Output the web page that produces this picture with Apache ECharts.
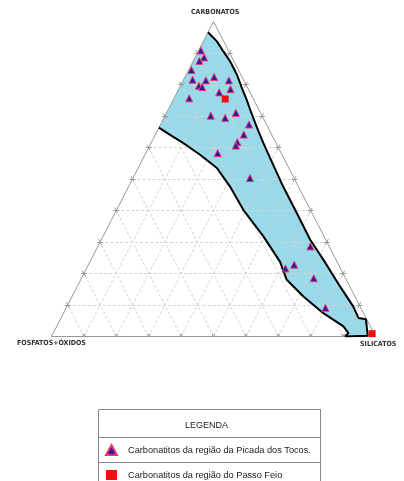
<!DOCTYPE html>
<html>
<head>
<meta charset="utf-8">
<script src="https://cdn.jsdelivr.net/npm/echarts@6/dist/echarts.min.js"></script>
<style>
html, body { margin: 0; padding: 0; background: #fff; }
#chart { width: 404px; height: 481px; }
</style>
</head>
<body>
<div id="chart"></div>
<script>
// valores em % (fosfatos+óxidos = 100 - carbonatos - silicatos)
var tocosCarb = [90.8, 88.6, 87.5, 84.6, 81.5, 81.3, 82.4, 81.3, 79.6, 79.2, 78.5, 77.5, 75.6, 71.0,
	70.1, 69.4, 67.3, 64.1, 61.7, 60.6, 58.2, 50.3, 28.6, 21.6, 22.8, 18.5, 9.1];
var tocosSil = [0.7, 2.8, 1.9, 0.9, 2.8, 7.0, 9.0, 14.1, 5.7, 6.9, 16.0, 13.0, 4.7, 21.4,
	14.1, 18.9, 27.3, 27.3, 26.5, 26.6, 22.2, 36.1, 65.6, 61.4, 63.5, 71.7, 80.0];
var feioCarb = [75.4, 0.9];
var feioSil = [15.9, 98.5];

// contorno do campo (curva inferior -> seta -> curva superior)
var campoCarb = [66.3, 64.0, 61.4, 57.7, 53.5, 47.6, 40.2, 31.8, 23.7, 18.0, 12.7, 7.4, 3.2, 1.1,
	0, 0.2, 5.5, 5.9,
	9.5, 15.9, 24.4, 30.7, 39.2, 47.6, 56.7, 61.4, 66.6, 71.9, 75.1, 78.9, 83.1, 87.3, 90.5, 93.7, 96.6];
var campoSil = [0, 4.6, 10.0, 17.0, 24.3, 31.3, 39.1, 49.5, 58.7, 63.6, 71.4, 80.2, 88.5, 91.1,
	90.6, 97.5, 94.3, 91.8,
	88.4, 81.1, 71.7, 64.5, 56.1, 47.7, 39.1, 34.7, 30.0, 25.4, 22.7, 19.3, 15.7, 11.5, 7.8, 4.2, 0];

var ticks = [10, 20, 30, 40, 50, 60, 70, 80, 90];

var nomeTocos = 'Carbonatitos da região da Picada dos Tocos.';
var nomeFeio = 'Carbonatitos da região do Passo Feio';

// ternario -> x,y do grid
function xy(c, s) {
	return [s + c / 2, c];
}
function pontos(carb, sil) {
	var res = [];
	for (var i = 0; i < carb.length; i++) {
		res.push(xy(carb[i], sil[i]));
	}
	return res;
}

// linhas de grade tracejadas e marcas (pequenos x nas bordas)
var grade = [], marcas = [];
var t = 0.9;
for (var i = 0; i < ticks.length; i++) {
	var k = ticks[i];
	grade.push({ coords: [xy(k, 0), xy(k, 100 - k)] });
	grade.push({ coords: [xy(0, k), xy(100 - k, k)] });
	grade.push({ coords: [xy(0, 100 - k), xy(100 - k, 0)] });
	// base: C = 0, S = k
	marcas.push({ coords: [xy(t, k - t), xy(-t, k + t)] });
	marcas.push({ coords: [xy(t, k), xy(-t, k)] });
	// lado esquerdo: S = 0, C = k
	marcas.push({ coords: [xy(k, -t), xy(k, t)] });
	marcas.push({ coords: [xy(k + t, -t), xy(k - t, t)] });
	// lado direito: F = 0, C = k
	marcas.push({ coords: [xy(k, 100 - k - t), xy(k, 100 - k + t)] });
	marcas.push({ coords: [xy(k - t, 100 - k), xy(k + t, 100 - k)] });
}

var campo = pontos(campoCarb, campoSil);
var fonteEixo = '"Liberation Sans Narrow", "DejaVu Sans Condensed", sans-serif';
var fonteLeg = '"Liberation Sans", Arial, sans-serif';

var chart = echarts.init(document.getElementById('chart'));
chart.setOption({
	animation: false,
	backgroundColor: '#fff',
	grid: { left: 51.5, top: 21.5, width: 324, height: 315 },
	xAxis: { type: 'value', min: 0, max: 100, show: false },
	yAxis: { type: 'value', min: 0, max: 100, show: false },
	legend: {
		orient: 'vertical',
		left: 105,
		top: 444,
		padding: 0,
		itemGap: 14,
		itemWidth: 11,
		itemHeight: 10,
		textStyle: { fontSize: 9.2, color: '#222', fontFamily: fonteLeg, padding: [0, 0, 0, 6] },
		data: [nomeTocos, nomeFeio]
	},
	graphic: [
		{ type: 'text', left: 191, top: 9, style: { text: 'CARBONATOS', fontSize: 7, fontWeight: 'bold', fill: '#333', fontFamily: fonteEixo } },
		{ type: 'text', left: 17, top: 340, style: { text: 'FOSFATOS+ÓXIDOS', fontSize: 7, fontWeight: 'bold', fill: '#333', fontFamily: fonteEixo } },
		{ type: 'text', left: 360, top: 341, style: { text: 'SILICATOS', fontSize: 7, fontWeight: 'bold', fill: '#333', fontFamily: fonteEixo } },
		{ type: 'rect', shape: { x: 98.5, y: 409.5, width: 222, height: 90 }, style: { fill: 'none', stroke: '#888', lineWidth: 1 } },
		{ type: 'line', shape: { x1: 98.5, y1: 437.5, x2: 320.5, y2: 437.5 }, style: { stroke: '#888', lineWidth: 1 } },
		{ type: 'line', shape: { x1: 98.5, y1: 462.5, x2: 320.5, y2: 462.5 }, style: { stroke: '#888', lineWidth: 1 } },
		{ type: 'text', left: 185, top: 421, style: { text: 'LEGENDA', fontSize: 9, fill: '#222', fontFamily: fonteLeg } }
	],
	series: [
		{
			type: 'custom',
			renderItem: function (params, api) {
				var pts = campo.map(function (p) { return api.coord(p); });
				return { type: 'polygon', shape: { points: pts }, style: { fill: '#99d9ea' } };
			},
			data: [[0, 0]],
			silent: true,
			z: 1
		},
		{
			type: 'lines',
			coordinateSystem: 'cartesian2d',
			data: grade,
			lineStyle: { color: '#d4d4d4', width: 1, type: [3, 2], opacity: 1 },
			silent: true,
			z: 2
		},
		{
			type: 'lines',
			coordinateSystem: 'cartesian2d',
			data: marcas,
			lineStyle: { color: '#999', width: 1, opacity: 1 },
			silent: true,
			z: 2
		},
		{
			type: 'line',
			data: [xy(100, 0), xy(0, 100), xy(0, 0), xy(100, 0)],
			showSymbol: false,
			lineStyle: { color: '#999', width: 1 },
			silent: true,
			z: 3
		},
		{
			type: 'line',
			data: campo,
			showSymbol: false,
			lineStyle: { color: '#000', width: 2 },
			silent: true,
			z: 4
		},
		{
			name: nomeTocos,
			type: 'scatter',
			symbol: 'triangle',
			symbolSize: 7,
			data: pontos(tocosCarb, tocosSil),
			itemStyle: { color: '#2b1aa8', borderColor: '#f03c64', borderWidth: 1, opacity: 1 },
			z: 5
		},
		{
			name: nomeFeio,
			type: 'scatter',
			symbol: 'rect',
			symbolSize: 7,
			data: pontos(feioCarb, feioSil),
			itemStyle: { color: '#ee1111', opacity: 1 },
			z: 5
		}
	]
});
</script>
</body>
</html>
